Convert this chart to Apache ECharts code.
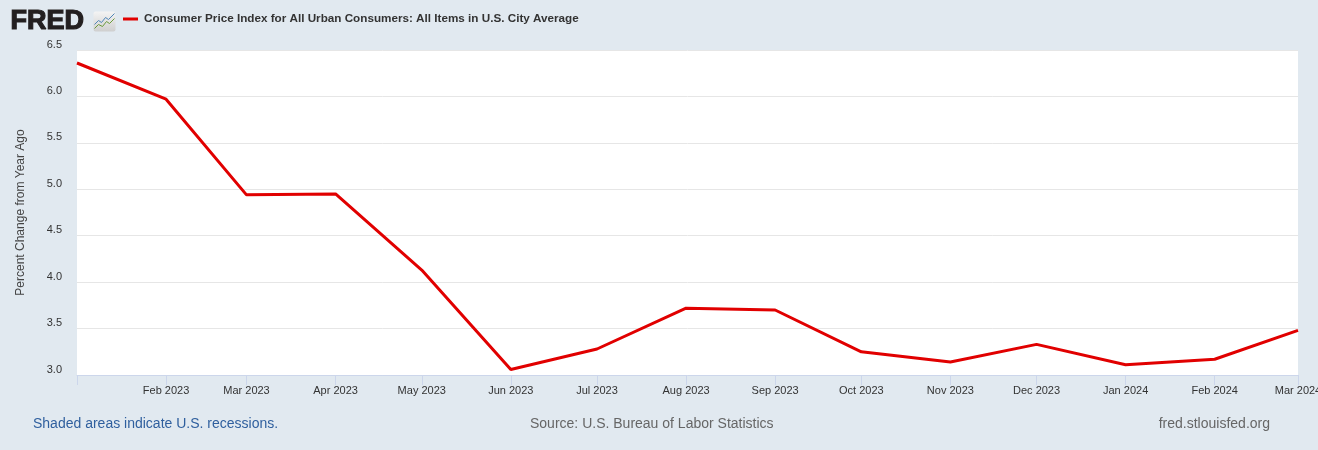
<!DOCTYPE html>
<html>
<head>
<meta charset="utf-8">
<title>FRED CPI</title>
<script src="https://cdn.jsdelivr.net/npm/echarts@6/dist/echarts.min.js"></script>
<style>
  html, body { margin: 0; padding: 0; background: #e1e9f0; }
  #chart { width: 1318px; height: 450px; }
</style>
</head>
<body>
<div id="chart"></div>
<script>
// monthly observations (first day of month)
const months = [
  "2023-01-01", "2023-02-01", "2023-03-01", "2023-04-01", "2023-05-01",
  "2023-06-01", "2023-07-01", "2023-08-01", "2023-09-01", "2023-10-01",
  "2023-11-01", "2023-12-01", "2024-01-01", "2024-02-01", "2024-03-01"
];
// percent change from year ago
const cpiYoY = [6.36, 5.97, 4.94, 4.95, 4.13, 3.06, 3.28, 3.72, 3.70, 3.25, 3.14, 3.33, 3.11, 3.17, 3.48];
const monthNames = ["Jan", "Feb", "Mar", "Apr", "May", "Jun", "Jul", "Aug", "Sep", "Oct", "Nov", "Dec"];
const yTicks = { min: 3.0, max: 6.5, step: 0.5 };

const seriesTitle = "Consumer Price Index for All Urban Consumers: All Items in U.S. City Average";
const font = "'Liberation Sans', Arial, sans-serif";
const xMin = new Date(months[0]).getTime();

const chart = echarts.init(document.getElementById("chart"));

const options = {
  backgroundColor: "#e1e9f0",
  animation: false,
  textStyle: { fontFamily: font },
  grid: {
    left: 77, right: 20, top: 50, bottom: 75,
    outerBoundsMode: "none",
    backgroundColor: "#ffffff", show: true, borderWidth: 0
  },
  xAxis: {
    type: "time",
    min: months[0],
    max: months[months.length - 1],
    splitNumber: 14,
    axisLine: { lineStyle: { color: "#ccd6eb", width: 1 } },
    axisTick: { show: true, length: 10, lineStyle: { color: "#ccd6eb" } },
    splitLine: { show: false },
    axisLabel: {
      color: "#333333",
      fontSize: 11,
      margin: 10,
      hideOverlap: false,
      formatter: function (v) {
        if (v <= xMin) return "";
        const d = new Date(v);
        return monthNames[d.getMonth()] + " " + d.getFullYear();
      }
    }
  },
  yAxis: {
    type: "value",
    min: yTicks.min,
    max: yTicks.max,
    interval: yTicks.step,
    name: "Percent Change from Year Ago",
    nameLocation: "middle",
    nameGap: 50,
    nameTextStyle: { color: "#444444", fontSize: 12 },
    axisLine: { show: false },
    axisTick: { show: false },
    splitLine: { lineStyle: { color: "#e6e6e6", width: 1 } },
    axisLabel: {
      color: "#333333",
      fontSize: 11,
      margin: 15,
      verticalAlign: "bottom",
      formatter: function (v) { return v.toFixed(1); }
    }
  },
  series: [
    {
      type: "line",
      data: months.map((m, i) => [m, cpiYoY[i]]),
      showSymbol: false,
      lineStyle: { color: "#e10000", width: 3 },
      itemStyle: { color: "#e10000" }
    }
  ],
  graphic: [
    // FRED logo
    {
      type: "text", left: 10, top: 7,
      style: {
        text: "FRED", font: "bold 27px " + font, fill: "#231f20",
        stroke: "#231f20", lineWidth: 1.2
      }
    },
    {
      type: "group", left: 92, top: 11,
      children: [
        {
          type: "rect", shape: { x: 0, y: 0, width: 22, height: 20, r: 2 },
          style: {
            fill: new echarts.graphic.LinearGradient(0, 0, 0, 1, [
              { offset: 0, color: "#f4f4f4" }, { offset: 1, color: "#cfcfcf" }
            ])
          }
        },
        {
          type: "polyline", shape: { points: [[1, 13], [5, 9], [8, 11], [12, 6], [15, 8], [21, 2]] },
          style: { stroke: "#4f86b8", lineWidth: 1, fill: null }
        },
        {
          type: "polyline", shape: { points: [[1, 17], [5, 13], [9, 15], [13, 10], [16, 12], [21, 7]] },
          style: { stroke: "#6a9a3a", lineWidth: 1, fill: null }
        }
      ]
    },
    // legend
    {
      type: "line", shape: { x1: 123, y1: 19, x2: 138, y2: 19 },
      style: { stroke: "#e10000", lineWidth: 3 }
    },
    {
      type: "text", left: 144, top: 13,
      style: { text: seriesTitle, font: "bold 11.7px " + font, fill: "#333333" }
    },
    // footer
    {
      type: "text", left: 33, top: 417,
      style: { text: "Shaded areas indicate U.S. recessions.", font: "14px " + font, fill: "#2f5f9e" }
    },
    {
      type: "text", left: 530, top: 417,
      style: { text: "Source: U.S. Bureau of Labor Statistics", font: "14px " + font, fill: "#666666" }
    },
    {
      type: "text", right: 48, top: 417,
      style: { text: "fred.stlouisfed.org", font: "14px " + font, fill: "#666666" }
    }
  ]
};

chart.setOption(options);
</script>
</body>
</html>
